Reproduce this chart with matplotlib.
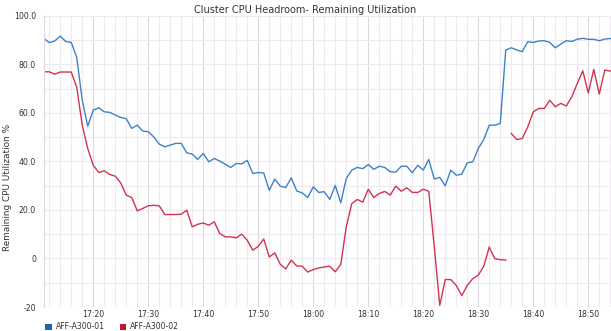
import numpy as np
import pandas as pd
import matplotlib
matplotlib.use('Agg')
import matplotlib.pyplot as plt
import matplotlib.dates as mdates
from matplotlib.patches import Patch

# one sample per minute, 17:11 -> 18:54
start = '2018-01-01 17:11'
n_points = 104

series_names = ['AFF-A300-01', 'AFF-A300-02']

a300_01 = [90.7, 88.9, 89.6, 91.6, 89.4, 89.0, 82.8, 65.2, 54.5, 61.1,
           62.1, 60.4, 60.2, 59.1, 58.1, 57.6, 53.6, 54.9, 52.5, 52.2,
           50.1, 47.1, 46.0, 46.7, 47.4, 47.4, 43.5, 43.0, 40.8, 43.3,
           39.8, 41.2, 40.1, 38.8, 37.5, 39.1, 39.0, 40.4, 35.0, 35.4,
           35.2, 28.1, 32.7, 29.8, 29.2, 33.2, 27.8, 27.0, 25.1, 29.5,
           27.2, 27.5, 24.3, 30.1, 22.9, 32.9, 36.4, 37.5, 37.0, 38.7,
           36.7, 38.0, 37.5, 35.7, 35.6, 38.0, 38.0, 35.3, 38.4, 36.4,
           40.8, 32.7, 33.4, 29.9, 36.4, 34.3, 34.7, 39.4, 39.8, 45.3,
           49.0, 54.9, 54.9, 55.6, 85.9, 86.8, 85.9, 85.2, 89.3, 89.0,
           89.6, 89.7, 89.0, 86.8, 88.3, 89.7, 89.4, 90.3, 90.7, 90.3,
           90.3, 89.7, 90.4, 90.6]

a300_02 = [76.9, 76.9, 75.9, 76.8, 76.8, 76.8, 70.5, 54.9, 45.3, 38.4,
           35.4, 36.1, 34.6, 33.9, 31.1, 26.1, 25.1, 19.6, 20.6, 21.7,
           21.9, 21.7, 18.1, 18.1, 18.1, 18.2, 19.9, 13.0, 14.1, 14.6,
           13.7, 15.1, 10.3, 8.9, 8.9, 8.5, 10.0, 7.5, 3.4, 5.0,
           8.0, 0.6, 2.3, -2.4, -4.3, -0.7, -3.1, -3.2, -5.6, -4.6,
           -3.9, -3.5, -3.2, -5.5, -2.5, 13.0, 22.6, 24.3, 23.2, 28.5,
           25.1, 26.8, 27.6, 26.1, 29.8, 27.7, 29.1, 27.2, 27.2, 28.5,
           27.7, 5.0, -19.3, -8.7, -8.7, -11.1, -15.3, -11.1, -8.3, -6.9,
           -3.2, 4.7, -0.1, -0.5, -0.7, 51.5, 49.0, 49.4, 54.2, 60.4,
           61.8, 61.8, 65.2, 62.5, 63.9, 62.8, 66.6, 72.1, 77.3, 68.2,
           77.9, 67.7, 77.6, 77.2]

# the 02 series has a break in the line between 18:35 and 18:36
gap_time = '2018-01-01 18:35:30'

times = pd.date_range(start, periods=n_points, freq='min')
s1 = pd.Series(a300_01, index=times)
s2 = pd.Series(a300_02, index=times)
s2.loc[pd.Timestamp(gap_time)] = np.nan
s2 = s2.sort_index()

blue = '#3f82c4'
red = '#d1344f'
grid_minor = '#efe9f0'
grid_major = '#e0d6e6'
text_col = '#333333'

fig = plt.figure(figsize=(6.11, 3.31), dpi=100)
ax = fig.add_axes([0.0725, 0.0725, 0.9275, 0.88])

ax.plot(s1.index, s1.values, color=blue, lw=1.0)
ax.plot(s2.index, s2.values, color=red, lw=1.0)

ax.set_xlim(pd.Timestamp('2018-01-01 17:11:06'), pd.Timestamp('2018-01-01 18:54:08'))
ax.set_ylim(-20, 100)

ax.xaxis.set_major_locator(mdates.MinuteLocator(byminute=range(0, 60, 10)))
ax.xaxis.set_minor_locator(mdates.MinuteLocator(byminute=range(0, 60, 2)))
ax.xaxis.set_major_formatter(mdates.DateFormatter('%H:%M'))
ax.set_yticks([-20, 0, 20, 40, 60, 80, 100])
ax.set_yticklabels(['-20', '0', '20.0', '40.0', '60.0', '80.0', '100.0'])
ax.set_yticks([-10, 10, 30, 50, 70, 90], minor=True)

ax.grid(True, which='major', axis='x', color=grid_major, lw=0.8)
ax.grid(True, which='minor', axis='x', color=grid_minor, lw=0.8)
ax.grid(True, which='both', axis='y', color=grid_minor, lw=0.8)
ax.set_axisbelow(True)

ax.tick_params(which='both', length=0, labelsize=5.6, colors=text_col)
ax.tick_params(axis='y', pad=6)
ax.tick_params(axis='x', pad=2.5)
for side in ['top', 'right', 'bottom']:
    ax.spines[side].set_visible(False)
ax.spines['left'].set_color(grid_major)
ax.spines['left'].set_linewidth(0.8)

fig.text(0.5, 0.985, 'Cluster CPU Headroom- Remaining Utilization',
         ha='center', va='top', fontsize=7.0, color=text_col)
fig.text(0.013, 0.435, 'Remaining CPU Utilization %', rotation=90,
         ha='center', va='center', fontsize=6.4, color=text_col)

handles = [Patch(facecolor='#1c63b0', edgecolor='none'),
           Patch(facecolor='#c0142f', edgecolor='none')]
fig.legend(handles, series_names, loc='lower left', bbox_to_anchor=(0.063, -0.022),
           ncol=2, frameon=False, fontsize=5.6, handlelength=0.8, handleheight=0.8,
           handletextpad=0.6, columnspacing=1.8, labelcolor=text_col)

fig.savefig('out.png', dpi=100)
